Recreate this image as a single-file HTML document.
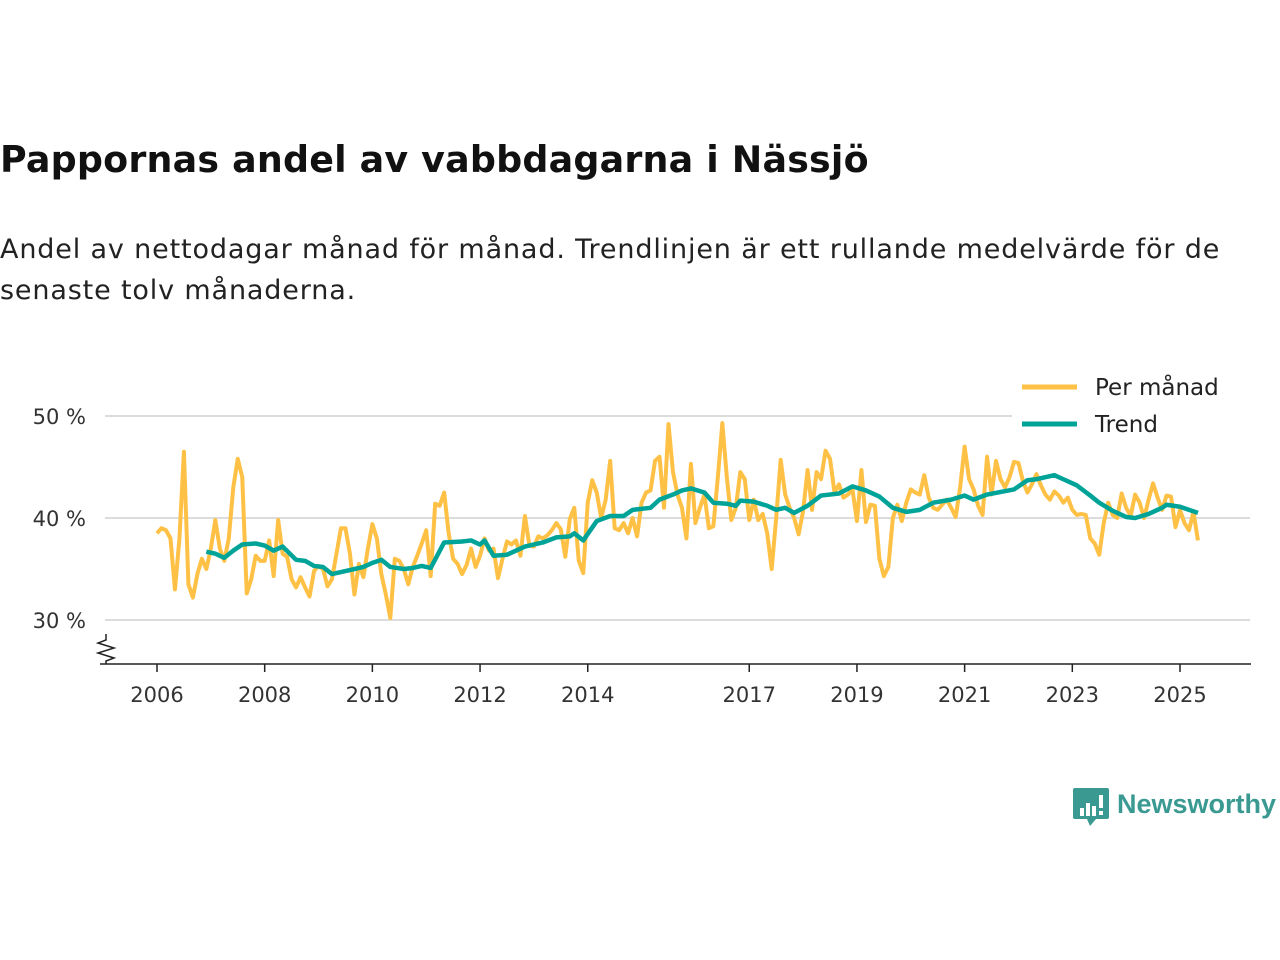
<!DOCTYPE html>
<html><head><meta charset="utf-8">
<style>
body{margin:0;background:#fff;width:1280px;height:960px;overflow:hidden;font-family:"DejaVu Sans","Liberation Sans",sans-serif;color:#111}
h1{position:absolute;left:0;top:138px;margin:0;font-size:36.4px;font-weight:bold;letter-spacing:0.2px}
.sub{position:absolute;left:0;top:229px;margin:0;font-size:27px;letter-spacing:0.85px;line-height:41px;width:1260px;color:#222}
svg{position:absolute;left:0;top:0}
</style></head><body>
<h1>Pappornas andel av vabbdagarna i Nässjö</h1>
<p class="sub">Andel av nettodagar månad för månad. Trendlinjen är ett rullande medelvärde för de<br>senaste tolv månaderna.</p>
<svg id="chart" width="1280" height="960"></svg>
<script>
const monthly = [
38.5,39,38.8,38,33,38,46.5,33.5,32.2,34.5,36,35,
37,39.8,37,35.8,38,43,45.8,44,32.6,34,36.3,35.8,
35.8,37.8,34.3,39.8,36.5,36.2,34,33.2,34.2,33.2,32.3,34.8,
35.3,35,33.3,34,36.5,39,39,36.5,32.5,35.5,34.2,37,
39.4,38,34.5,32.5,30.2,36,35.8,35,33.5,35.2,36.3,37.5,
38.8,34.3,41.4,41.2,42.5,38.5,36,35.5,34.5,35.4,37,35.2,
36.3,38,36.8,37,34.1,36,37.7,37.4,37.8,36.3,40.2,37.3,
37.2,38.2,38,38.3,38.8,39.5,38.9,36.2,39.9,41,35.8,34.6,
41.5,43.7,42.5,40,41.8,45.6,39,38.8,39.5,38.5,40,38.2,
41.5,42.5,42.7,45.6,46,41,49.2,44.5,42.3,41,38,45.3,
39.5,41,42.3,39,39.2,44,49.3,44,39.8,41,44.5,43.8,
39.8,41.8,39.8,40.4,38.5,35,40,45.7,42.3,41,40,38.4,
40.7,44.7,40.8,44.5,43.8,46.6,45.8,42.5,43.3,42,42.3,42.8,
39.7,44.7,39.6,41.3,41.2,36,34.3,35.2,40,41.3,39.7,41.5,
42.8,42.5,42.3,44.2,42,41,40.8,41.3,41.8,41,40.1,43,
47,43.8,42.8,41.2,40.3,46,42.3,45.6,43.8,43,44,45.5,
45.4,43.6,42.5,43.3,44.3,43.2,42.3,41.8,42.6,42.2,41.5,42,
40.8,40.3,40.4,40.3,38,37.5,36.4,39.5,41.5,40.3,40,42.4,
41,40.2,42.3,41.5,40,41.8,43.4,42,40.8,42.2,42.1,39.1,
40.8,39.5,38.8,40.6,37.8];
const trendMonth = [11,13,15,17,19,22,24,26,28,31,33,35,37,39,43,46,48,50,52,55,57,59,61,64,68,70,72,73,75,78,82,86,89,92,93,95,98,101,104,106,110,112,115,117,119,122,124,127,129,130,133,136,138,140,142,145,148,152,155,158,161,164,167,170,173,177,180,182,185,191,194,196,200,202,205,208,210,213,216,218,221,224,225,228,232];
const trendValue = [36.7,36.5,36.1,36.8,37.4,37.5,37.3,36.8,37.2,35.9,35.8,35.3,35.2,34.5,34.9,35.2,35.6,35.9,35.2,35,35.1,35.3,35.1,37.6,37.7,37.8,37.4,37.8,36.3,36.4,37.2,37.6,38.1,38.2,38.5,37.8,39.7,40.2,40.2,40.8,41,41.8,42.3,42.7,42.9,42.5,41.5,41.4,41.2,41.7,41.6,41.2,40.8,41,40.5,41.2,42.2,42.4,43.1,42.7,42.1,41,40.6,40.8,41.5,41.8,42.2,41.8,42.3,42.8,43.7,43.8,44.2,43.8,43.2,42.2,41.5,40.7,40.1,40,40.4,41,41.3,41.1,40.5];
const yTicks = [30,40,50];
const xYears = [2006,2008,2010,2012,2014,2017,2019,2021,2023,2025];

const NS="http://www.w3.org/2000/svg";
const svg=document.getElementById('chart');
const x0=157, perYear=(1180-157)/19;
const xMonth=m=>x0+m*perYear/12;
const xYear=y=>x0+(y-2006)*perYear;
const yScale=v=>518-(v-40)*10.2;
function mk(tag,attrs){const e=document.createElementNS(NS,tag);for(const k in attrs)e.setAttribute(k,attrs[k]);svg.appendChild(e);return e;}

yTicks.forEach(t=>{
  const g=mk('line',{x1:105,x2:1250,y1:yScale(t),y2:yScale(t),stroke:'#dcdcdc','stroke-width':2});
  
  
  const l=mk('text',{x:86,y:yScale(t)+8,'text-anchor':'end','font-size':21,fill:'#333'});
  l.textContent=t+' %';
  
  
});
const ax=mk('line',{x1:100,x2:1251,y1:664,y2:664,stroke:'#222','stroke-width':1.5});


const zz=mk('path',{d:'M106,634 L106,640 L98,643 L114,648 L98,653 L114,658 L106,661 L106,664',fill:'none',stroke:'#222','stroke-width':1.5});


xYears.forEach(yr=>{
  const x=xYear(yr);
  const t=mk('line',{x1:x,x2:x,y1:664,y2:672,stroke:'#222','stroke-width':1.5});
  
  
  const l=mk('text',{x:x,y:702,'text-anchor':'middle','font-size':21,fill:'#333'});
  l.textContent=yr;
  
  
});
const p1=mk('polyline',{points:monthly.map((v,i)=>xMonth(i)+','+yScale(v)).join(' '),fill:'none',stroke:'#ffc145','stroke-width':4,'stroke-linejoin':'round'});


const p2=mk('polyline',{points:trendValue.map((v,i)=>xMonth(trendMonth[i])+','+yScale(v)).join(' '),fill:'none',stroke:'#00a398','stroke-width':4.5,'stroke-linejoin':'round'});


const lb=mk('rect',{x:1012,y:368,width:238,height:72,fill:'#fff'});


[['Per månad','#ffc145',387],['Trend','#00a398',424]].forEach(([n,c,y],i)=>{
  const l=mk('line',{x1:1022,x2:1077,y1:y,y2:y,stroke:c,'stroke-width':5});
  
  
  const t=mk('text',{x:1095,y:y+8,'font-size':23,fill:'#222'});
  t.textContent=n;
  
  
});
const lg=mk('path',{d:'M1075,788 h32 a2,2 0 0 1 2,2 v27 a2,2 0 0 1 -2,2 h-11 l-6,7 l-3,-7 h-12 a2,2 0 0 1 -2,-2 v-27 a2,2 0 0 1 2,-2z',fill:'#3a9a92'});


[[1080,808,4,8],[1086,803,4,13],[1092,806,4,10],[1099,795,4,13]].forEach(([x,y,w,h])=>{
  const r=mk('rect',{x:x,y:y,width:w,height:h,fill:'#fff'});
  
  
});
const dot=mk('rect',{x:1099,y:811,width:4,height:4,fill:'#fff'});


const lt=mk('text',{x:1117,y:813,'font-size':27,'font-weight':'bold',fill:'#3a9a92','font-family':'Liberation Sans, sans-serif'});
lt.textContent='Newsworthy';


</script>
</body></html>
